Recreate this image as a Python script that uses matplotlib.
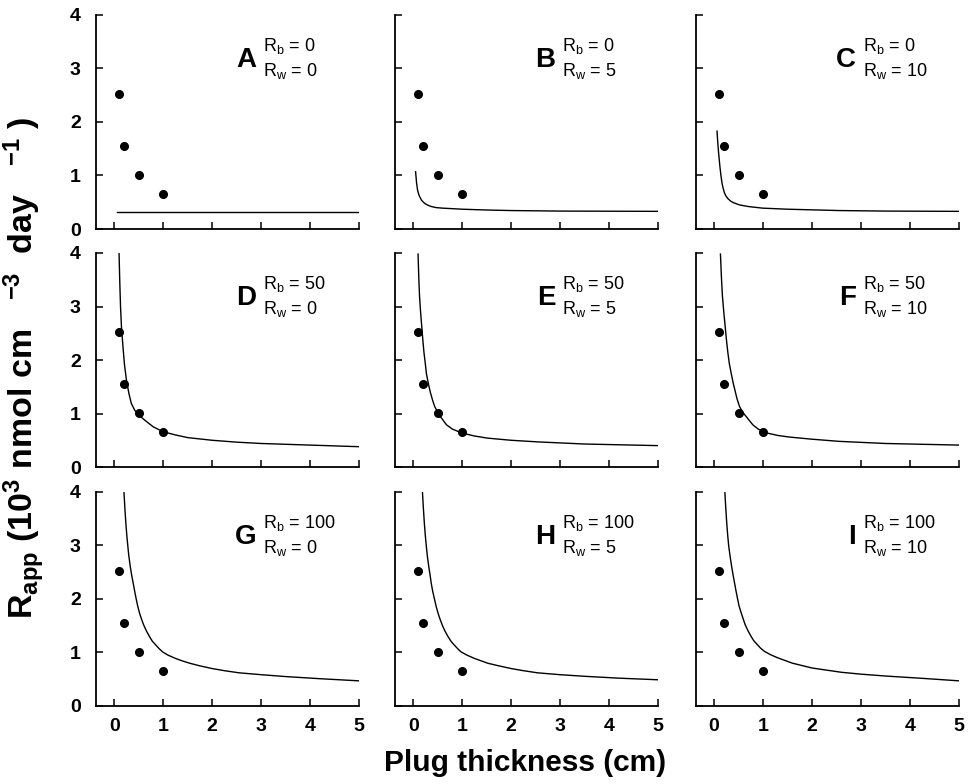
import matplotlib
matplotlib.use("Agg")
import matplotlib.pyplot as plt

plt.rcParams['font.family'] = ['Liberation Sans', 'DejaVu Sans']
plt.rcParams['mathtext.fontset'] = 'custom'
plt.rcParams['mathtext.rm'] = 'Liberation Sans'
plt.rcParams['mathtext.bf'] = 'Liberation Sans:bold'
plt.rcParams['mathtext.it'] = 'Liberation Sans:italic'

# measured points (same in every panel)
obs_x = [0.1, 0.2, 0.5, 1.0]
obs_y = [2.53, 1.56, 1.01, 0.65]

letters = ['A', 'B', 'C', 'D', 'E', 'F', 'G', 'H', 'I']
rb_vals = [0, 0, 0, 50, 50, 50, 100, 100, 100]
rw_vals = [0, 5, 10, 0, 5, 10, 0, 5, 10]

# model curves
a_x = [0.06, 5.0]
a_y = [0.32, 0.32]
b_x = [0.05, 0.07, 0.09, 0.11, 0.13, 0.17, 0.21, 0.25, 0.3, 0.37, 0.47, 0.6, 0.8, 1.0, 1.5, 2.0, 3.0, 5.0]
b_y = [1.07, 0.86, 0.73, 0.66, 0.61, 0.54, 0.50, 0.47, 0.445, 0.42, 0.40, 0.39, 0.38, 0.37, 0.355, 0.345, 0.335, 0.33]
c_x = [0.06, 0.075, 0.09, 0.105, 0.12, 0.14, 0.16, 0.18, 0.21, 0.24, 0.28, 0.34, 0.4, 0.52, 0.7, 0.99, 1.5, 2.55, 3.5, 5.0]
c_y = [1.83, 1.62, 1.45, 1.30, 1.16, 1.00, 0.87, 0.78, 0.68, 0.62, 0.57, 0.52, 0.49, 0.45, 0.42, 0.39, 0.37, 0.345, 0.335, 0.33]
d_x = [0.10, 0.115, 0.13, 0.15, 0.18, 0.21, 0.25, 0.3, 0.35, 0.42, 0.5, 0.58, 0.66, 0.8, 1.0, 1.25, 1.5, 2.0, 2.5, 3.0, 4.0, 5.0]
d_y = [4.0, 3.45, 3.0, 2.6, 2.25, 1.92, 1.63, 1.38, 1.19, 1.06, 0.98, 0.91, 0.85, 0.75, 0.66, 0.60, 0.55, 0.50, 0.465, 0.44, 0.41, 0.38]
e_x = [0.10, 0.115, 0.13, 0.15, 0.17, 0.2, 0.22, 0.25, 0.27, 0.31, 0.35, 0.4, 0.44, 0.5, 0.55, 0.68, 0.8, 0.98, 1.25, 1.52, 2.0, 2.54, 3.5, 5.0]
e_y = [3.98, 3.55, 3.2, 2.92, 2.69, 2.35, 2.15, 1.92, 1.75, 1.56, 1.40, 1.24, 1.13, 1.03, 0.95, 0.79, 0.71, 0.64, 0.58, 0.54, 0.50, 0.47, 0.43, 0.40]
f_x = [0.13, 0.15, 0.17, 0.2, 0.22, 0.25, 0.28, 0.31, 0.35, 0.39, 0.43, 0.47, 0.52, 0.58, 0.65, 0.79, 0.9, 1.06, 1.3, 1.54, 2.0, 2.55, 3.5, 5.0]
f_y = [3.98, 3.55, 3.2, 2.88, 2.69, 2.4, 2.15, 1.94, 1.75, 1.57, 1.42, 1.27, 1.13, 1.03, 0.95, 0.79, 0.71, 0.64, 0.59, 0.56, 0.52, 0.48, 0.44, 0.41]
g_x = [0.20, 0.22, 0.24, 0.26, 0.28, 0.3, 0.33, 0.36, 0.39, 0.42, 0.45, 0.48, 0.52, 0.56, 0.6, 0.66, 0.72, 0.78, 0.85, 0.92, 0.99, 1.1, 1.25, 1.4, 1.54, 1.75, 2.0, 2.25, 2.55, 3.0, 3.5, 4.2, 5.0]
g_y = [4.0, 3.68, 3.4, 3.17, 2.98, 2.8, 2.6, 2.43, 2.29, 2.14, 2.0, 1.87, 1.73, 1.62, 1.52, 1.40, 1.30, 1.21, 1.14, 1.07, 1.01, 0.95, 0.89, 0.84, 0.80, 0.75, 0.70, 0.66, 0.62, 0.585, 0.55, 0.51, 0.47]
h_x = [0.19, 0.21, 0.23, 0.25, 0.27, 0.29, 0.32, 0.35, 0.37, 0.4, 0.44, 0.47, 0.51, 0.55, 0.6, 0.65, 0.71, 0.78, 0.85, 0.92, 0.98, 1.1, 1.25, 1.4, 1.52, 1.75, 2.0, 2.25, 2.54, 3.0, 3.5, 4.2, 5.0]
h_y = [4.0, 3.68, 3.4, 3.17, 2.98, 2.8, 2.6, 2.42, 2.29, 2.14, 1.98, 1.86, 1.73, 1.62, 1.50, 1.40, 1.30, 1.20, 1.13, 1.06, 1.01, 0.95, 0.89, 0.84, 0.80, 0.75, 0.70, 0.66, 0.62, 0.585, 0.555, 0.52, 0.49]
i_x = [0.22, 0.24, 0.26, 0.28, 0.30, 0.33, 0.36, 0.39, 0.42, 0.45, 0.48, 0.51, 0.55, 0.59, 0.63, 0.69, 0.75, 0.81, 0.88, 0.95, 1.03, 1.15, 1.3, 1.45, 1.6, 1.8, 2.0, 2.3, 2.6, 3.0, 3.5, 4.2, 5.0]
i_y = [4.0, 3.68, 3.4, 3.17, 2.98, 2.78, 2.6, 2.44, 2.29, 2.14, 2.0, 1.87, 1.75, 1.64, 1.53, 1.41, 1.31, 1.22, 1.15, 1.08, 1.02, 0.96, 0.9, 0.85, 0.8, 0.755, 0.71, 0.67, 0.63, 0.595, 0.56, 0.52, 0.47]

curves = [(a_x, a_y), (b_x, b_y), (c_x, c_y), (d_x, d_y), (e_x, e_y),
          (f_x, f_y), (g_x, g_y), (h_x, h_y), (i_x, i_y)]

fig = plt.figure(figsize=(9.72, 7.84), dpi=100)

lefts = [0.0988, 0.4064, 0.716]
bottoms = [0.7079, 0.4043, 0.0995]
w, h = 0.2706, 0.273

for k in range(9):
    r, c = divmod(k, 3)
    ax = fig.add_axes([lefts[c], bottoms[r], w, h])
    cx, cy = curves[k]
    ax.plot(cx, cy, color='black', lw=1.0)
    ax.plot(obs_x, obs_y, 'o', color='black', ms=5.5)
    ax.set_xlim(-0.37, 5)
    ax.set_ylim(0, 4)
    ax.set_xticks([0, 1, 2, 3, 4, 5])
    ax.set_yticks([0, 1, 2, 3, 4])
    ax.spines['top'].set_visible(False)
    ax.spines['right'].set_visible(False)
    ax.spines['left'].set_linewidth(1.3)
    ax.spines['bottom'].set_linewidth(1.3)
    ax.tick_params(direction='in', length=5, width=1.1)
    ax.tick_params(axis='x', pad=9)
    ax.tick_params(axis='y', pad=11)
    for lab in ax.get_xticklabels() + ax.get_yticklabels():
        lab.set_fontweight('bold')
        lab.set_fontsize(14)
    if c != 0:
        ax.set_yticklabels([])
    if r != 2:
        ax.set_xticklabels([])
    ax.text(2.9, 3.15, letters[k], fontsize=20, fontweight='bold',
            ha='right', va='center')
    ax.text(3.04, 3.42, r'$\mathrm{R_b}$ = %d' % rb_vals[k], fontsize=13,
            ha='left', va='center')
    ax.text(3.04, 2.96, r'$\mathrm{R_w}$ = %d' % rw_vals[k], fontsize=13,
            ha='left', va='center')

fig.text(0.54, 0.027, 'Plug thickness (cm)', fontsize=21.5, fontweight='bold',
         ha='center', va='center')
ylab = (r'$\mathbf{R_{app}}$ $\mathbf{(10}$$\mathbf{^{3}}$ $\mathbf{nmol}$ '
        r'$\mathbf{cm}$   $\mathbf{^{-3}}$  $\mathbf{day}$   $\mathbf{^{-1}}$ $\mathbf{)}$')
fig.text(0.025, 0.531, ylab, fontsize=24.5, rotation=90, ha='center', va='center')

fig.savefig('out.png', dpi=100)
